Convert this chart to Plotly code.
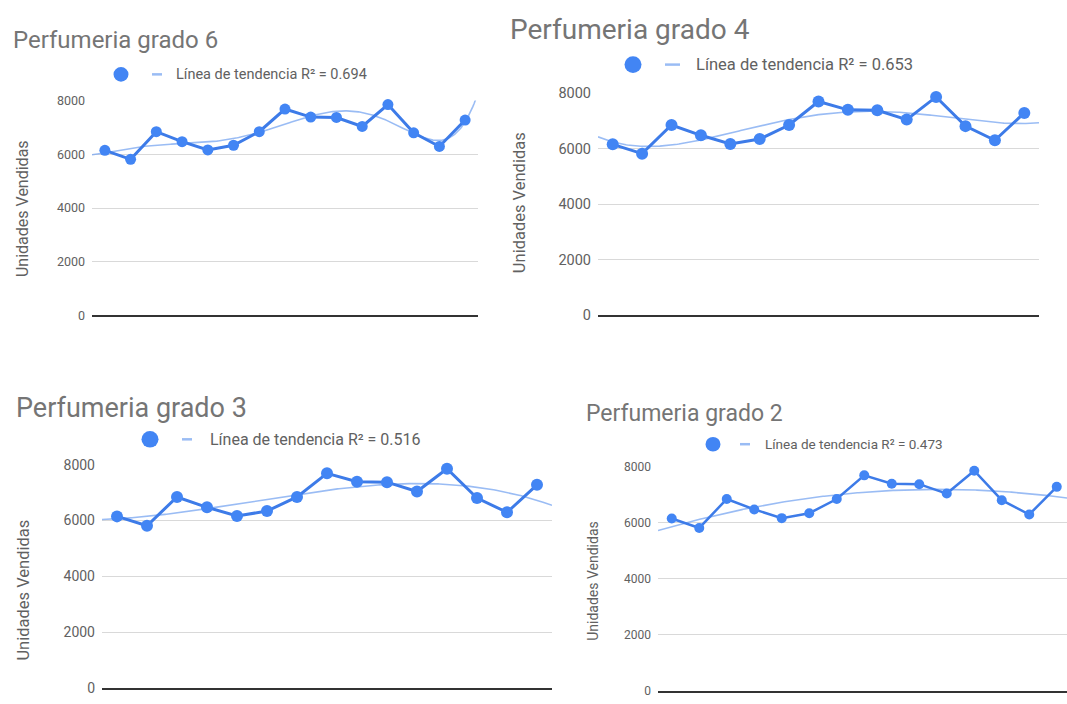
import numpy as np
import plotly.graph_objects as go

# Ventas por periodo (mismos datos en los cuatro paneles)
periodos = list(range(1, 16))
unidades = [6150, 5815, 6845, 6475, 6165, 6340, 6845, 7690, 7390, 7375, 7040, 7855, 6805, 6295, 7280]

# Un panel por grado del polinomio de tendencia
titulos = ["Perfumeria grado 6", "Perfumeria grado 4", "Perfumeria grado 3", "Perfumeria grado 2"]
grados = [6, 4, 3, 2]
r2_textos = ["0.694", "0.653", "0.516", "0.473"]
ticks_y = [0, 2000, 4000, 6000, 8000]
titulo_eje_y = "Unidades Vendidas"
texto_leyenda = "Línea de tendencia R² = {}"

W, H = 1067, 704
AZUL = "#4285F4"
AZUL_LINEA = "#3D7BE8"
AZUL_TEND = "rgba(120,165,240,0.75)"
GRIS_TITULO = "#757575"
GRIS_TEXTO = "#616161"
FUENTE = "Roboto"

# Geometría de cada panel en píxeles de la página
paneles = [
    dict(left=92, right=478, xmax=15.5, y0=315, y8k=95,
         title=(11, 33, 24), leg=(121, 68, 7.5, 152, 162, 174, 14.5),
         ytitle=(22, 206, 16), tick=12.5, lw=3, ms=11),
    dict(left=598, right=1039, xmax=15.5, y0=315, y8k=87,
         title=(508, 22, 28), leg=(633, 58, 8.5, 665, 680, 694, 16.5),
         ytitle=(519, 200, 16.5), tick=14.5, lw=3, ms=12),
    dict(left=102, right=552, xmax=15.5, y0=697, y8k=468,
         title=(14, 410, 27), leg=(150, 442, 8.5, 182, 192, 208, 16),
         ytitle=(24, 597, 16.5), tick=14, lw=3, ms=12),
    dict(left=658, right=1067, xmax=0.5 + (1067 - 658) / 27.5, y0=700, y8k=470,
         title=(584, 416, 23), leg=(713, 447, 7.5, 740, 750, 763, 13.5),
         ytitle=(593, 587, 14), tick=12, lw=2.5, ms=10),
]


def px(x):
    return x / W


def py(y):
    return 1 - y / H


fig = go.Figure()
shapes = []
annotations = []
layout_axes = {}

for i, (p, titulo, grado, r2) in enumerate(zip(paneles, titulos, grados, r2_textos), start=1):
    xa = "x" if i == 1 else f"x{i}"
    ya = "y" if i == 1 else f"y{i}"
    xkey = "xaxis" if i == 1 else f"xaxis{i}"
    ykey = "yaxis" if i == 1 else f"yaxis{i}"

    # Escala vertical: el área del gráfico termina en 8000
    ppu = (p["y0"] - p["y8k"]) / 8000
    ymax = 8010
    top_px = p["y0"] - ymax * ppu

    # Línea de tendencia polinómica (recortada al área del gráfico)
    coef = np.polyfit(periodos, unidades, grado)
    xs = np.linspace(0.5, 15.5, 301)
    ys = np.polyval(coef, xs)
    fig.add_trace(go.Scatter(
        x=xs, y=ys, mode="lines", xaxis=xa, yaxis=ya,
        line=dict(color=AZUL_TEND, width=1.6), showlegend=False, hoverinfo="skip"))

    # Serie de unidades vendidas
    fig.add_trace(go.Scatter(
        x=periodos, y=unidades, mode="lines+markers", xaxis=xa, yaxis=ya,
        line=dict(color=AZUL_LINEA, width=p["lw"]),
        marker=dict(color=AZUL, size=p["ms"]),
        cliponaxis=False, showlegend=False))

    layout_axes[xkey] = dict(
        domain=[px(p["left"]), px(p["right"])], anchor=ya,
        range=[0.5, p["xmax"]], showticklabels=False, showgrid=False,
        zeroline=False, showline=True, linecolor="#333333", linewidth=1.6,
        ticks="", fixedrange=True)
    layout_axes[ykey] = dict(
        domain=[py(p["y0"]), py(top_px)], anchor=xa,
        range=[0, ymax], tickvals=ticks_y, ticktext=[str(t) for t in ticks_y],
        showgrid=True, gridcolor="#d9d9d9", gridwidth=1, zeroline=False,
        showline=False, ticks="", ticklabelstandoff=6,
        tickfont=dict(family=FUENTE, size=p["tick"], color=GRIS_TEXTO),
        fixedrange=True)

    # Título del panel
    tx, ty, ts = p["title"]
    annotations.append(dict(
        text=titulo, x=px(tx), y=py(ty), xref="paper", yref="paper",
        xanchor="left", yanchor="middle", showarrow=False,
        font=dict(family=FUENTE, size=ts, color=GRIS_TITULO)))

    # Leyenda: punto de la serie, trazo de tendencia y texto
    cx, cy, r, lx0, lx1, ltx, lsize = p["leg"]
    shapes.append(dict(
        type="circle", xref="paper", yref="paper",
        x0=px(cx - r), x1=px(cx + r), y0=py(cy + r), y1=py(cy - r),
        fillcolor=AZUL, line=dict(width=0)))
    shapes.append(dict(
        type="line", xref="paper", yref="paper",
        x0=px(lx0), x1=px(lx1), y0=py(cy), y1=py(cy),
        line=dict(color=AZUL_TEND, width=2.5)))
    annotations.append(dict(
        text=texto_leyenda.format(r2), x=px(ltx), y=py(cy), xref="paper", yref="paper",
        xanchor="left", yanchor="middle", showarrow=False,
        font=dict(family=FUENTE, size=lsize, color=GRIS_TEXTO)))

    # Título del eje vertical
    ax, ay, asize = p["ytitle"]
    annotations.append(dict(
        text=titulo_eje_y, x=px(ax), y=py(ay), xref="paper", yref="paper",
        xanchor="center", yanchor="middle", textangle=-90, showarrow=False,
        font=dict(family=FUENTE, size=asize, color=GRIS_TEXTO)))

fig.update_layout(
    width=W, height=H, margin=dict(l=0, r=0, t=0, b=0),
    paper_bgcolor="white", plot_bgcolor="white",
    showlegend=False, shapes=shapes, annotations=annotations,
    **layout_axes)

# La figura ocupa la página completa, sin el margen por defecto del body
fig.write_html(
    "out.html",
    post_script="document.body.style.margin='0';document.body.style.overflow='hidden';",
)
